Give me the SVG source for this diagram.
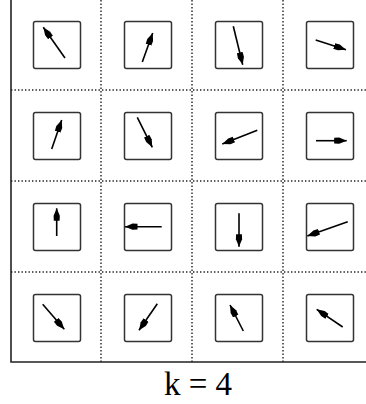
<svg xmlns="http://www.w3.org/2000/svg" width="366" height="404" viewBox="0 0 366 404">
<style>
.grid{stroke:#222;stroke-width:1.4;stroke-dasharray:1.4 2.1;fill:none}
.frame{stroke:#222;stroke-width:1.6;fill:none}
.box{fill:#fff;stroke:#333;stroke-width:1.5}
.arr{stroke:#000;stroke-width:1.6;fill:none;marker-end:url(#ah)}
.lbl{font-family:"Liberation Serif","Times New Roman",serif;font-size:33px;fill:#000}
</style>
<defs>
<marker id="ah" markerUnits="userSpaceOnUse" markerWidth="14" markerHeight="8" refX="12.5" refY="3.5" orient="auto">
<path d="M0,0.6 L5,0.4 L12.5,3.5 L5,6.6 L0,6.4 Z" fill="#000"/>
</marker>
</defs>
<rect width="366" height="404" fill="#fff"/>
<g id="grid">
<line class="grid" x1="101" y1="0" x2="101" y2="362"/>
<line class="grid" x1="192" y1="0" x2="192" y2="362"/>
<line class="grid" x1="283" y1="0" x2="283" y2="362"/>
<line class="grid" x1="11" y1="90" x2="366" y2="90"/>
<line class="grid" x1="11" y1="181" x2="366" y2="181"/>
<line class="grid" x1="11" y1="272" x2="366" y2="272"/>
<path class="frame" d="M11,0 V362 H366"/>
</g>
<g id="boxes">
<rect id="b00" class="box" x="33.5" y="21.5" width="47" height="47" rx="2"/>
<rect id="b01" class="box" x="124.5" y="21.5" width="47" height="47" rx="2"/>
<rect id="b02" class="box" x="215.5" y="21.5" width="47" height="47" rx="2"/>
<rect id="b03" class="box" x="306.5" y="21.5" width="47" height="47" rx="2"/>
<rect id="b10" class="box" x="33.5" y="112.5" width="47" height="47" rx="2"/>
<rect id="b11" class="box" x="124.5" y="112.5" width="47" height="47" rx="2"/>
<rect id="b12" class="box" x="215.5" y="112.5" width="47" height="47" rx="2"/>
<rect id="b13" class="box" x="306.5" y="112.5" width="47" height="47" rx="2"/>
<rect id="b20" class="box" x="33.5" y="203.5" width="47" height="47" rx="2"/>
<rect id="b21" class="box" x="124.5" y="203.5" width="47" height="47" rx="2"/>
<rect id="b22" class="box" x="215.5" y="203.5" width="47" height="47" rx="2"/>
<rect id="b23" class="box" x="306.5" y="203.5" width="47" height="47" rx="2"/>
<rect id="b30" class="box" x="33.5" y="294.5" width="47" height="47" rx="2"/>
<rect id="b31" class="box" x="124.5" y="294.5" width="47" height="47" rx="2"/>
<rect id="b32" class="box" x="215.5" y="294.5" width="47" height="47" rx="2"/>
<rect id="b33" class="box" x="306.5" y="294.5" width="47" height="47" rx="2"/>
</g>
<g id="arrows">
<line class="arr" x1="65" y1="58" x2="43.3" y2="27.3"/>
<line class="arr" x1="142.3" y1="62" x2="152.7" y2="33"/>
<line class="arr" x1="233.3" y1="26.3" x2="242.7" y2="64.7"/>
<line class="arr" x1="315.7" y1="40" x2="346" y2="49.7"/>
<line class="arr" x1="51.7" y1="149" x2="61.7" y2="120"/>
<line class="arr" x1="137.3" y1="117.3" x2="152.3" y2="147.3"/>
<line class="arr" x1="257.3" y1="130.3" x2="222.3" y2="144"/>
<line class="arr" x1="316" y1="140.7" x2="346.7" y2="140.7"/>
<line class="arr" x1="56.7" y1="236" x2="56.7" y2="208.3"/>
<line class="arr" x1="161.7" y1="226.7" x2="125" y2="226.7"/>
<line class="arr" x1="239" y1="213.3" x2="239" y2="246.7"/>
<line class="arr" x1="347.7" y1="221.7" x2="307.3" y2="236"/>
<line class="arr" x1="42.7" y1="304.3" x2="64.3" y2="329.3"/>
<line class="arr" x1="157.3" y1="303.7" x2="139" y2="330.3"/>
<line class="arr" x1="243.3" y1="331" x2="230" y2="305"/>
<line class="arr" x1="342.7" y1="327" x2="316.7" y2="309.3"/>
</g>
<text id="label" class="lbl" x="198" y="395" text-anchor="middle">k = 4</text>
</svg>
